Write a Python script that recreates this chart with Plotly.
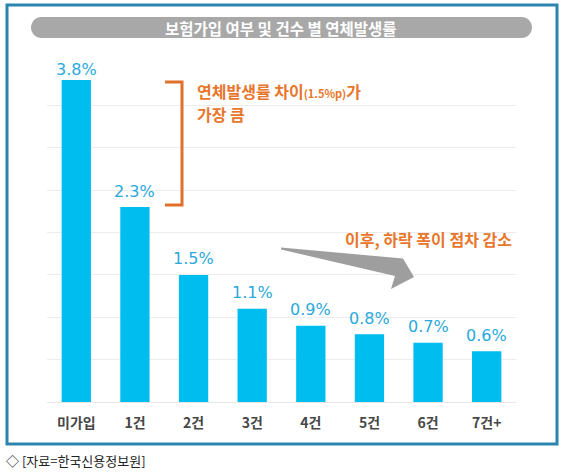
import plotly.graph_objects as go

categories = ["미가입", "1건", "2건", "3건", "4건", "5건", "6건", "7건+"]
values = [3.8, 2.3, 1.5, 1.1, 0.9, 0.8, 0.7, 0.6]
value_labels = ["3.8%", "2.3%", "1.5%", "1.1%", "0.9%", "0.8%", "0.7%", "0.6%"]
title_text = "보험가입 여부 및 건수 별 연체발생률"
note1_line1 = "연체발생률 차이<span style='font-size:11px'>(1.5%p)</span>가"
note1_line2 = "가장 큼"
note2 = "이후, 하락 폭이 점차 감소"
source_text = "◇ [자료=한국신용정보원]"

W, H = 565, 472
# plot area in page pixels: x 47..516, y 63..402
SX0, SX1, SY0, SY1 = 47, 516, 63, 402
L, R, T, B = SX0, W - SX1, SY0, H - SY1
PW, PH = SX1 - SX0, SY1 - SY0

def px(x):
    return (x - SX0) / PW

def py(y):
    return (SY1 - y) / PH

KR = "Noto Sans CJK KR"
ORANGE = "#e8762c"
CYAN = "#00bdf0"

fig = go.Figure()
fig.add_trace(go.Bar(
    x=categories, y=values, width=0.5,
    marker=dict(color=CYAN, line=dict(width=0)),
    hoverinfo="skip",
))

annotations = []
vmax = max(values)
for c, v, t in zip(categories, values, value_labels):
    annotations.append(dict(
        x=c, y=v, xref="x", yref="y", text=t, showarrow=False,
        yshift=10 if v == vmax else 16,
        font=dict(family="DejaVu Sans", size=16, color="#2aa9dc"),
    ))

annotations.append(dict(
    x=px(281), y=py(28), xref="paper", yref="paper", text="<b>" + title_text + "</b>",
    showarrow=False, font=dict(family=KR, size=15.5, color="white"),
    xanchor="center", yanchor="middle",
))
annotations.append(dict(
    x=px(196), y=py(91), xref="paper", yref="paper", text="<b>" + note1_line1 + "</b>",
    showarrow=False, font=dict(family=KR, size=16, color=ORANGE),
    xanchor="left", yanchor="middle", align="left", borderpad=0,
))
annotations.append(dict(
    x=px(196), y=py(114), xref="paper", yref="paper", text="<b>" + note1_line2 + "</b>",
    showarrow=False, font=dict(family=KR, size=16, color=ORANGE),
    xanchor="left", yanchor="middle", align="left", borderpad=0,
))
annotations.append(dict(
    x=px(343), y=py(239), xref="paper", yref="paper", text="<b>" + note2 + "</b>",
    showarrow=False, font=dict(family=KR, size=16, color=ORANGE),
    xanchor="left", yanchor="middle",
))
annotations.append(dict(
    x=px(4), y=py(461), xref="paper", yref="paper", text=source_text,
    showarrow=False, font=dict(family=KR, size=13, color="#222222"),
    xanchor="left", yanchor="middle",
))

def pt(x, y):
    return f"{px(x):.5f},{py(y):.5f}"

# rounded pill for title
x0p, x1p, y0p, y1p = 31, 532, 17, 38
r = (y1p - y0p) / 2
k = 0.5523 * r
pill = (
    f"M{pt(x0p + r, y0p)} L{pt(x1p - r, y0p)} "
    f"C{pt(x1p - r + k, y0p)} {pt(x1p, y0p + r - k)} {pt(x1p, y0p + r)} "
    f"C{pt(x1p, y0p + r + k)} {pt(x1p - r + k, y1p)} {pt(x1p - r, y1p)} "
    f"L{pt(x0p + r, y1p)} "
    f"C{pt(x0p + r - k, y1p)} {pt(x0p, y0p + r + k)} {pt(x0p, y0p + r)} "
    f"C{pt(x0p, y0p + r - k)} {pt(x0p + r - k, y0p)} {pt(x0p + r, y0p)} Z"
)

arrow = (
    f"M{pt(281, 247.5)} L{pt(403, 258.5)} L{pt(414, 277)} L{pt(391, 289)} "
    f"L{pt(395, 276)} L{pt(281, 249.5)} Z"
)

shapes = [
    dict(type="rect", xref="paper", yref="paper", x0=px(7), x1=px(557), y0=py(5), y1=py(444),
         line=dict(color="#2b84ad", width=3), fillcolor="rgba(0,0,0,0)", layer="below"),
    dict(type="path", xref="paper", yref="paper", path=pill,
         fillcolor="#a8a8a8", line=dict(width=0)),
    dict(type="path", xref="paper", yref="paper", path=arrow,
         fillcolor="#9e9e9e", line=dict(width=0)),
    # bracket
    dict(type="path", xref="paper", yref="paper",
         path=f"M{pt(165, 82)} L{pt(182, 82)} L{pt(182, 205)} L{pt(165, 205)}",
         line=dict(color="#e0702a", width=3), fillcolor="rgba(0,0,0,0)"),
]

fig.update_layout(
    width=W, height=H,
    margin=dict(l=L, r=R, t=T, b=B, pad=0),
    paper_bgcolor="white", plot_bgcolor="white",
    showlegend=False,
    bargap=0.5,
    hovermode=False,
    annotations=annotations,
    shapes=shapes,
    xaxis=dict(
        type="category", showline=False, ticks="", showgrid=False, zeroline=False,
        tickfont=dict(family=KR, size=14, color="#474747", weight="bold"),
        ticklabelstandoff=11, fixedrange=True,
    ),
    yaxis=dict(
        range=[0, 4.0], dtick=0.5, showticklabels=False, showgrid=True,
        gridcolor="#ececec", gridwidth=1, zeroline=True, zerolinecolor="#e6e6e6",
        zerolinewidth=1, showline=False, ticks="", fixedrange=True,
    ),
)

fig.write_html(
    "out.html",
    config={"displayModeBar": False},
    post_script="document.body.style.margin='0';document.body.style.overflow='hidden';",
)
